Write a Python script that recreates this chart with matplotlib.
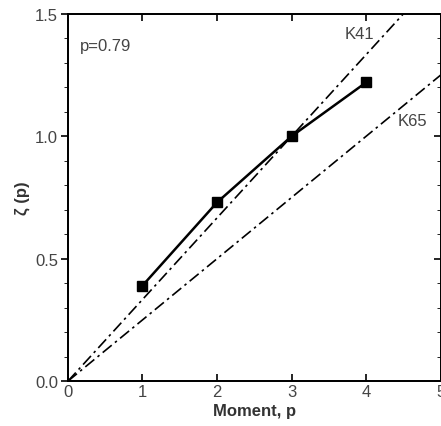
import numpy as np
import matplotlib.pyplot as plt
from matplotlib.ticker import MultipleLocator

plt.rcParams['font.family'] = ['Liberation Sans', 'DejaVu Sans']

# measured scaling exponents
moment = [1, 2, 3, 4]
zeta = [0.39, 0.73, 1.0, 1.22]

# reference scaling laws
p_line = np.array([0, 5])
k41 = p_line / 3.0
k65 = p_line / 4.0

fig = plt.figure(figsize=(4.41, 4.27), dpi=100)
ax = fig.add_axes([0.154, 0.105, 0.845, 0.86])

dashdot = (0, (7, 2.5, 1.5, 2.5))
ax.plot(p_line, k41, color='black', lw=1.2, linestyle=dashdot)
ax.plot(p_line, k65, color='black', lw=1.2, linestyle=dashdot)
ax.plot(moment, zeta, color='black', lw=1.8, marker='s', markersize=7)

txt = '#444444'
ax.text(0.16, 1.37, 'p=0.79', fontsize=12, color=txt, va='center')
ax.text(3.71, 1.42, 'K41', fontsize=12, color=txt, va='center')
ax.text(4.42, 1.065, 'K65', fontsize=12, color=txt, va='center')

ax.set_xlim(0, 5)
ax.set_ylim(0, 1.5)
ax.set_xticks([0, 1, 2, 3, 4, 5])
ax.set_yticks([0.0, 0.5, 1.0, 1.5])
ax.set_yticklabels(['0.0', '0.5', '1.0', '1.5'])
ax.yaxis.set_minor_locator(MultipleLocator(0.1))
ax.tick_params(axis='x', direction='in', top=True, length=5, width=1.2,
               labelsize=12, labelcolor=txt, pad=2)
ax.tick_params(axis='y', direction='out', length=5, width=1.2,
               labelsize=12, labelcolor=txt, pad=2)
ax.tick_params(axis='y', which='minor', direction='out', length=3)

# right side ticks point inward
ax2 = ax.twinx()
ax2.set_ylim(0, 1.5)
ax2.set_yticks([0.0, 0.5, 1.0, 1.5])
ax2.yaxis.set_minor_locator(MultipleLocator(0.1))
ax2.tick_params(axis='y', direction='in', length=5, width=1.2, labelright=False)
ax2.tick_params(axis='y', which='minor', direction='in', length=3)

for a in (ax, ax2):
    for s in a.spines.values():
        s.set_linewidth(1.3)

ax.set_xlabel('Moment, p', fontsize=12, fontweight='bold', color='#333333',
              labelpad=3)
ax.set_ylabel('ζ (p)', fontsize=12, fontweight='bold', color='#333333',
              labelpad=4)

fig.savefig('out.png', dpi=100)
